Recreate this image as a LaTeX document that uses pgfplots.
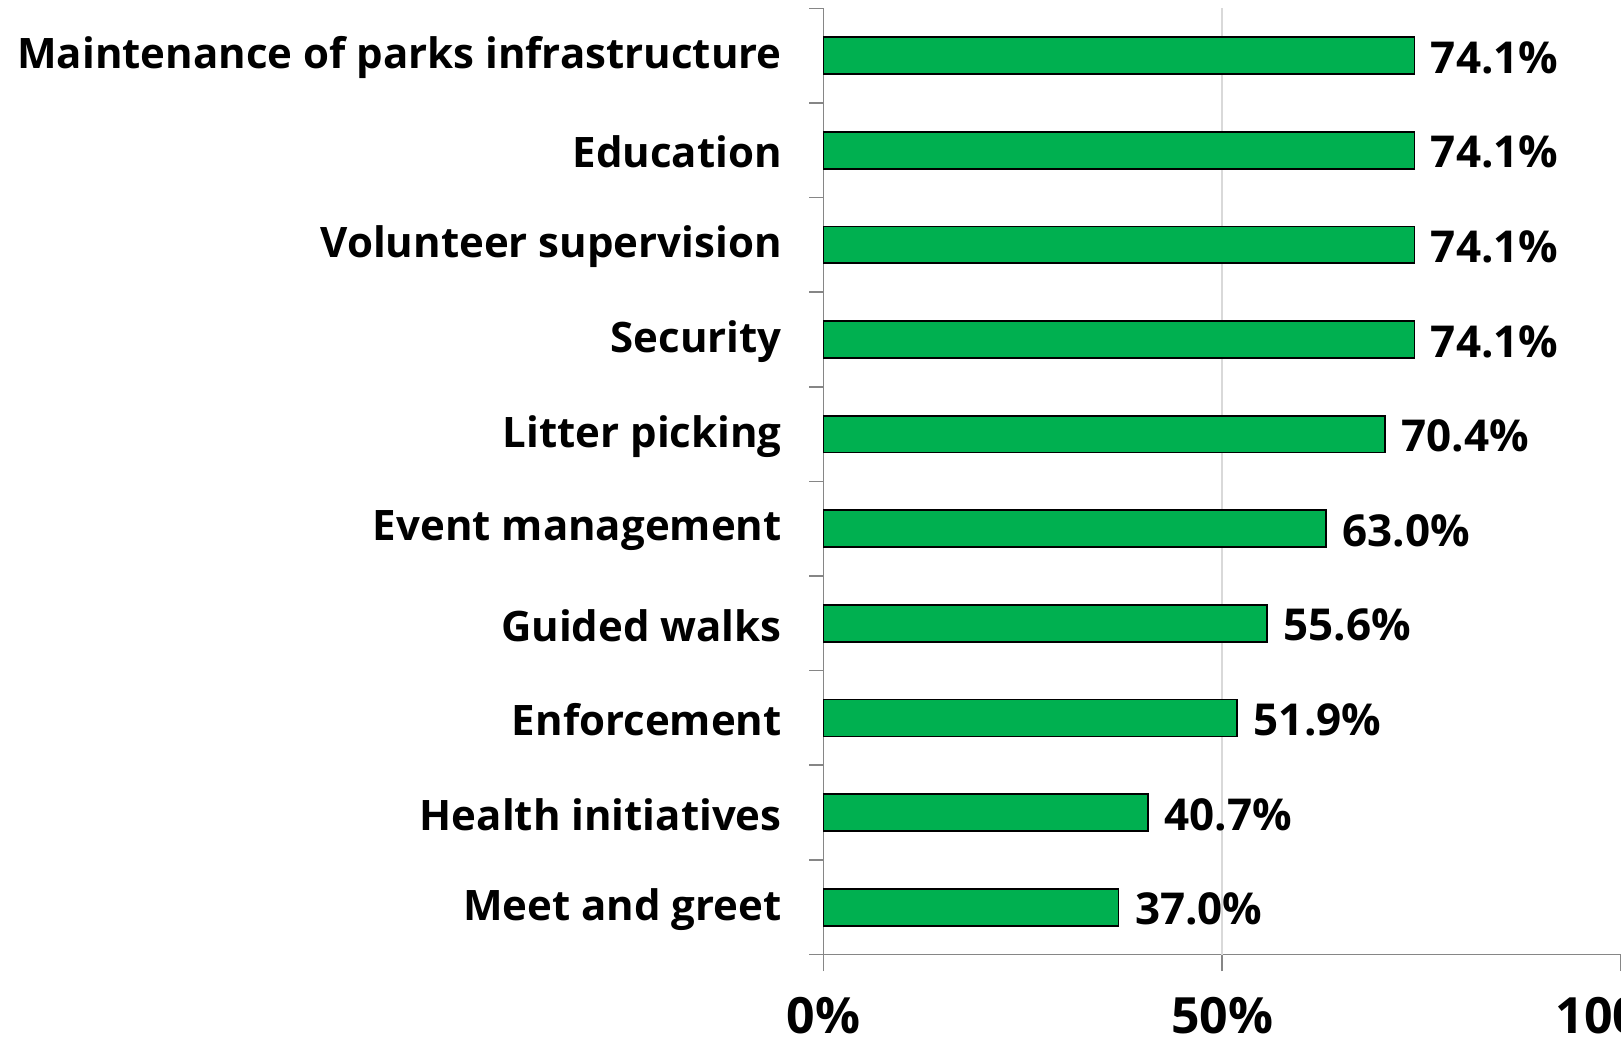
\documentclass[border=0pt]{standalone}
\usepackage{pgfplots}
\pgfplotsset{compat=1.18}
\usepackage{pgfplotstable}
\usepackage{fontspec}
\setmainfont{Open Sans}
\definecolor{bargreen}{RGB}{0,176,80}
\definecolor{axisgray}{RGB}{134,134,134}
\definecolor{gridgray}{RGB}{217,217,217}

% share of respondents per activity, top to bottom
\pgfplotstableread{
idx value
0 74.1
1 74.1
2 74.1
3 74.1
4 70.4
5 63.0
6 55.6
7 51.9
8 40.7
9 37.0
}\datatable

\begin{document}
\begin{tikzpicture}[trim axis right]
\begin{axis}[scale only axis,width=399pt,height=473.4pt,
  xbar,bar width=0.39,
  xmin=0,xmax=100,ymin=-0.5,ymax=9.5,y dir=reverse,
  axis lines*=left,axis line style={draw=axisgray,line width=0.8pt,-},
  xtick={0,50,100},xticklabel={\pgfmathprintnumber{\tick}\%},
  ytick={0,...,9},
  yticklabels={Maintenance of parks infrastructure,Education,Volunteer supervision,
    Security,Litter picking,Event management,Guided walks,Enforcement,
    Health initiatives,Meet and greet},
  minor ytick={-0.5,0.5,...,9.5},
  tick align=outside,major tick length=8.3pt,minor tick length=7pt,
  tick style={draw=axisgray,line width=0.8pt},
  major y tick style={draw=none},
  extra x ticks={50},extra x tick labels={},
  extra x tick style={grid=major},
  major grid style={draw=gridgray,line width=0.8pt},
  /pgf/number format/assume math mode=true,
  yticklabel style={font=\bfseries\fontsize{21}{25}\selectfont,inner sep=0pt,xshift=-12.4pt,yshift=-1pt},
  xticklabel style={font=\bfseries\fontsize{25}{30}\selectfont,inner sep=0pt,yshift=-13pt},
  nodes near coords={\pgfmathprintnumber[fixed,fixed zerofill,precision=1]{\pgfplotspointmeta}\%},
  every node near coord/.append style={font=\bfseries\fontsize{22}{26}\selectfont,
    anchor=west,inner sep=0pt,xshift=7.8pt,yshift=-1pt,text=black},
  clip=false]
\addplot[fill=bargreen,draw=black,line width=0.9pt] table[x=value,y=idx]{\datatable};
\end{axis}
\pgfresetboundingbox
\path[use as bounding box] ([shift={(-412pt,-44pt)}]current axis.south west)
  rectangle ([shift={(0pt,4.15pt)}]current axis.north east);
\end{tikzpicture}
\end{document}
